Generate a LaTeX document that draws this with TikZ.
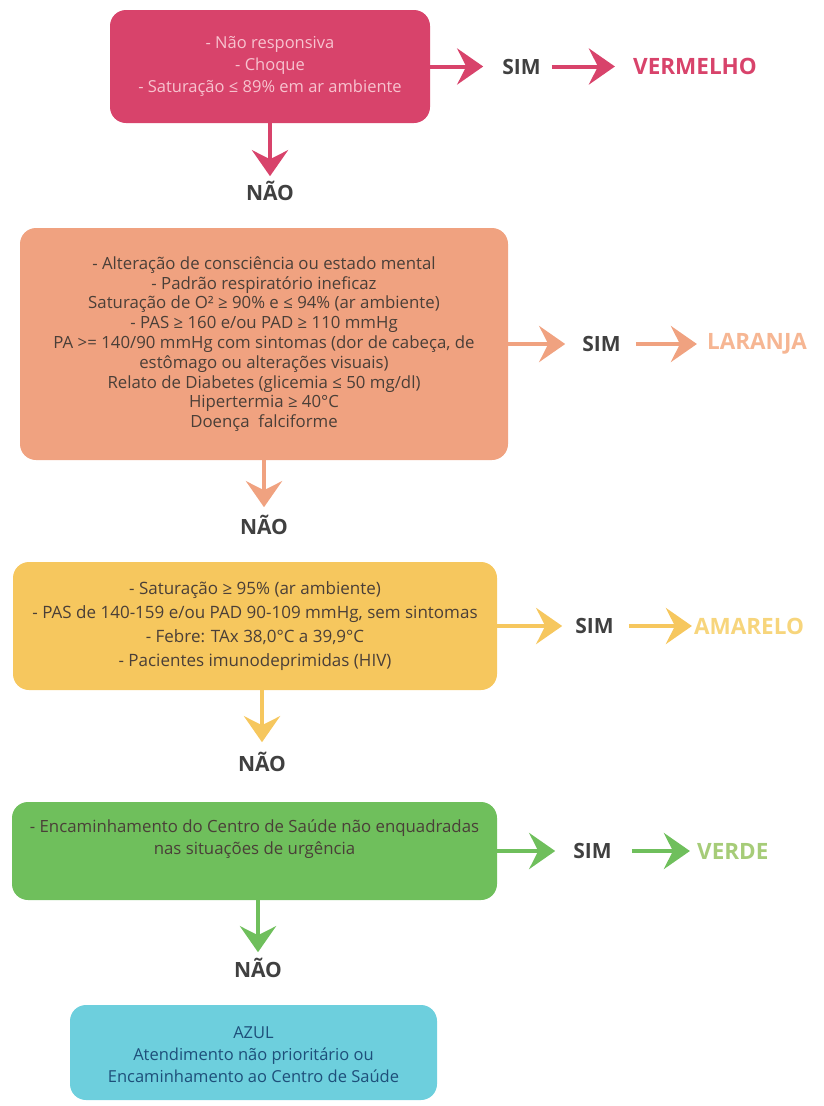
\documentclass[tikz,border=0pt]{standalone}
\usepackage{fontspec}
\setmainfont{Open Sans}
\usepackage{xcolor}
\usetikzlibrary{positioning, arrows.meta}

\definecolor{redbox}{HTML}{D8436B}
\definecolor{redtxt}{HTML}{F7C3CF}
\definecolor{orangebox}{HTML}{F0A280}
\definecolor{orangelbl}{HTML}{F6B693}
\definecolor{yellowbox}{HTML}{F6C75E}
\definecolor{yellowlbl}{HTML}{F7D57C}
\definecolor{greenbox}{HTML}{6FBF5C}
\definecolor{greenlbl}{HTML}{A6CC78}
\definecolor{bluebox}{HTML}{6DCFDD}
\definecolor{bluetxt}{HTML}{1E4F7A}
\definecolor{darktxt}{HTML}{4A3F38}

\begin{document}
\begin{tikzpicture}[
  x=1pt, y=-1pt,
  box/.style={rounded corners=16pt, align=center, inner sep=0pt, text=darktxt},
  answer/.style={font=\fontsize{21}{24}\bfseries, text=black!75, inner sep=0pt},
  level/.style={font=\fontsize{22.5}{26}\bfseries, inner sep=0pt},
  arr/.style={-{Stealth[length=26pt, width=36pt, inset=9pt]}, line width=4pt},
]
  \useasboundingbox (0,0) rectangle (823,1106);

  \node[box, fill=redbox, text=redtxt, minimum width=320pt, minimum height=113pt,
        font=\fontsize{16.5}{22}\selectfont] (red) at (270,66.5)
        {- Não responsiva\\- Choque\\- Saturação ≤ 89\% em ar ambiente};
  \node[answer] (simR) [right=72pt of red] {SIM};
  \node[level, text=redbox] (vermelho) [right=92pt of simR] {VERMELHO};
  \node[answer] (naoR) [below=58pt of red] {NÃO};

  \node[box, fill=orangebox, minimum width=488pt, minimum height=232pt,
        font=\fontsize{16.8}{19.8}\selectfont] (orange) at (264,344)
        {- Alteração de consciência ou estado mental\\
         - Padrão respiratório ineficaz\\
         Saturação de O² ≥ 90\% e ≤ 94\% (ar ambiente)\\
         - PAS ≥ 160 e/ou PAD ≥ 110 mmHg\\
         PA >= 140/90 mmHg com sintomas (dor de cabeça, de\\
         estômago ou alterações visuais)\\
         Relato de Diabetes (glicemia ≤ 50 mg/dl)\\
         Hipertermia ≥ 40°C\\
         Doença~~falciforme};
  \node[answer] (simO) [right=74pt of orange] {SIM};
  \node[level, text=orangelbl] (laranja) [right=86pt of simO] {LARANJA};
  \node[answer] (naoO) [below=55pt of orange] {NÃO};

  \node[box, fill=yellowbox, minimum width=484pt, minimum height=128pt,
        font=\fontsize{17}{24}\selectfont] (yellow) at (255,626)
        {- Saturação ≥ 95\% (ar ambiente)\\
         - PAS de 140-159 e/ou PAD 90-109 mmHg, sem sintomas\\
         - Febre: TAx 38,0°C a 39,9°C\\
         - Pacientes imunodeprimidas (HIV)};
  \node[answer] (simY) [right=78pt of yellow] {SIM};
  \node[level, text=yellowlbl] (amarelo) [right=80pt of simY] {AMARELO};
  \node[answer] (naoY) [below=62pt of yellow, xshift=7pt] {NÃO};

  \node[box, fill=greenbox, minimum width=485pt, minimum height=98pt,
        font=\fontsize{16.8}{22}\selectfont] (green) at (254.5,851)
        {- Encaminhamento do Centro de Saúde não enquadradas\\
         nas situações de urgência\\[6pt]};
  \node[answer] (simG) [right=76pt of green] {SIM};
  \node[level, text=greenlbl] (verde) [right=85pt of simG] {VERDE};
  \node[answer] (naoG) [below=58pt of green, xshift=3.5pt] {NÃO};

  \node[box, fill=bluebox, text=bluetxt, minimum width=367pt, minimum height=95pt,
        font=\fontsize{16.5}{22}\selectfont] (blue) at (253.5,1052.5)
        {\\[-6pt]AZUL\\Atendimento não prioritário ou\\Encaminhamento ao Centro de Saúde};

  \draw[arr, redbox, shorten >=19pt] (red) -- (simR);
  \draw[arr, redbox, shorten <=11pt, shorten >=18pt] (simR) -- (vermelho);
  \draw[arr, redbox, shorten >=5pt] (red.south -| naoR.north) -- (naoR.north);

  \draw[arr, orangebox, shorten >=17pt] (orange) -- (simO);
  \draw[arr, orangebox, shorten <=15pt, shorten >=10pt] (simO) -- (laranja);
  \draw[arr, orangebox, shorten >=8pt] (orange.south -| naoO.north) -- (naoO.north);

  \draw[arr, yellowbox, shorten >=13pt] (yellow) -- (simY);
  \draw[arr, yellowbox, shorten <=15pt, shorten >=2pt] (simY) -- (amarelo);
  \draw[arr, yellowbox, shorten >=10pt] (yellow.south -| naoY.north) -- (naoY.north);

  \draw[arr, greenbox, shorten >=18pt] (green) -- (simG);
  \draw[arr, greenbox, shorten <=20pt, shorten >=7pt] (simG) -- (verde);
  \draw[arr, greenbox, shorten >=6pt] (green.south -| naoG.north) -- (naoG.north);
\end{tikzpicture}
\end{document}
